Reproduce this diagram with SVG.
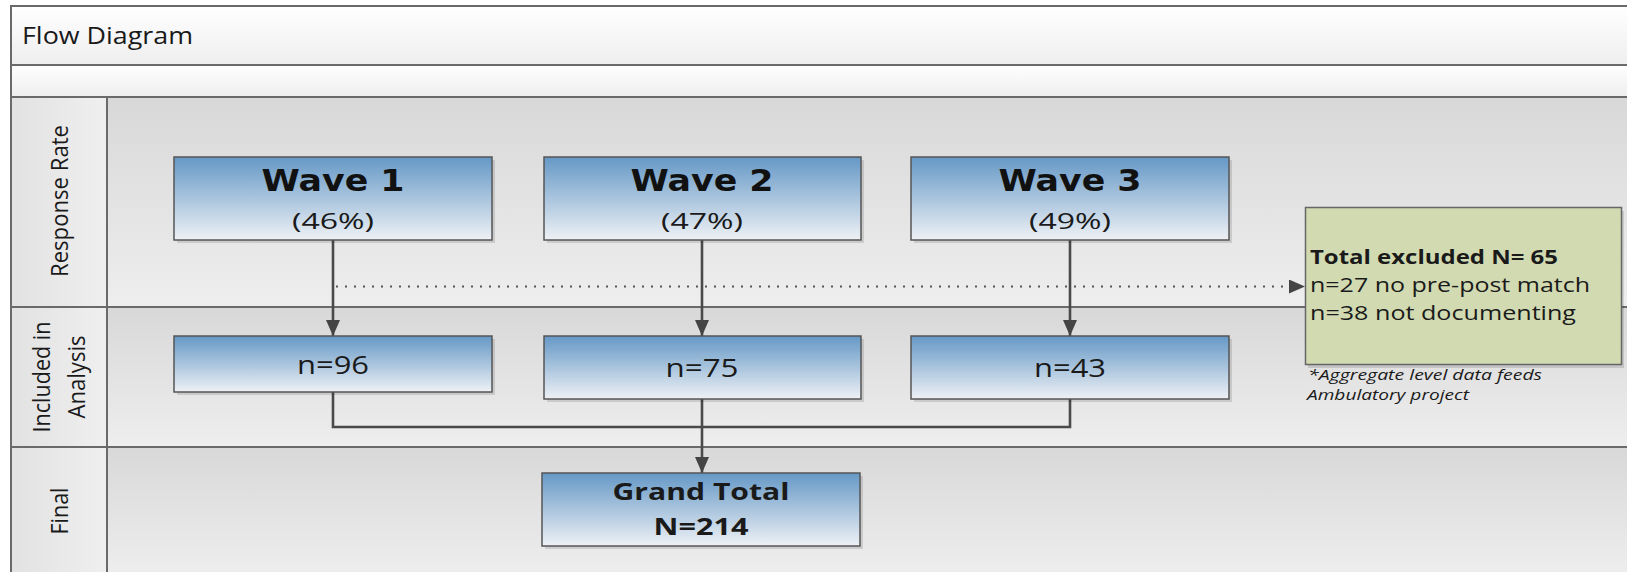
<svg xmlns="http://www.w3.org/2000/svg" width="1627" height="572" viewBox="0 0 1627 572">
<defs>
<linearGradient id="gBand" x1="0" y1="0" x2="0" y2="1"><stop offset="0" stop-color="#ffffff"/><stop offset="1" stop-color="#eeeeee"/></linearGradient>
<linearGradient id="gLane" x1="0" y1="0" x2="0" y2="1"><stop offset="0" stop-color="#d8d8d8"/><stop offset="1" stop-color="#eeeeee"/></linearGradient>
<linearGradient id="gHead" x1="0" y1="0" x2="1" y2="0"><stop offset="0" stop-color="#e2e2e2"/><stop offset="1" stop-color="#efefef"/></linearGradient>
<linearGradient id="gBox" x1="0" y1="0" x2="0" y2="1"><stop offset="0" stop-color="#6598c6"/><stop offset="1" stop-color="#eef1f5"/></linearGradient>
<marker id="arr" markerWidth="16" markerHeight="14" refX="16" refY="7" orient="auto" markerUnits="userSpaceOnUse"><path d="M0,0 L16,7 L0,14 Z" fill="#444"/></marker>
</defs>
<style>
.bd{stroke:#6a6a6a;stroke-width:2;fill:none}
.box{fill:url(#gBox);stroke:#555;stroke-width:1.5}
.sh{fill:#000;opacity:0.12}
.con{stroke:#4a4a4a;stroke-width:2.6;fill:none}
.t{font-family:"Open Sans","DejaVu Sans",sans-serif;fill:#1a1a1a}
.wb{font-family:"DejaVu Sans",sans-serif;font-weight:bold;fill:#111}
.b{font-weight:bold}
</style>
<!-- bands -->
<rect x="11" y="6" width="1630" height="59" fill="url(#gBand)"/>
<rect x="11" y="65" width="1630" height="32" fill="url(#gBand)"/>
<rect x="107" y="97" width="1530" height="210" fill="url(#gLane)"/>
<rect x="107" y="307" width="1530" height="140" fill="url(#gLane)"/>
<rect x="107" y="447" width="1530" height="130" fill="url(#gLane)"/>
<rect x="11" y="97" width="96" height="480" fill="url(#gHead)"/>
<path class="bd" d="M1640,6 H11 V580 M11,65 H1640 M11,97 H1640 M107,97 V580 M11,307 H1640 M11,447 H1640"/>
<text class="t" x="22" y="44" font-size="23" textLength="171" lengthAdjust="spacingAndGlyphs">Flow Diagram</text>
<g id="lane-labels">
<text class="t" font-size="23" text-anchor="middle" transform="translate(68,201) rotate(-90)" textLength="152" lengthAdjust="spacingAndGlyphs">Response Rate</text>
<text class="t" font-size="23" text-anchor="middle" transform="translate(50,377) rotate(-90)" textLength="111" lengthAdjust="spacingAndGlyphs">Included in</text>
<text class="t" font-size="23" text-anchor="middle" transform="translate(85,377) rotate(-90)" textLength="83" lengthAdjust="spacingAndGlyphs">Analysis</text>
<text class="t" font-size="23" text-anchor="middle" transform="translate(68,511) rotate(-90)" textLength="47" lengthAdjust="spacingAndGlyphs">Final</text>
</g>
<g id="connectors">
<line class="con" x1="333" y1="240" x2="333" y2="336" marker-end="url(#arr)"/>
<line class="con" x1="702" y1="240" x2="702" y2="336" marker-end="url(#arr)"/>
<line class="con" x1="1070" y1="240" x2="1070" y2="336" marker-end="url(#arr)"/>
<line x1="336" y1="286.5" x2="1305" y2="286.5" stroke="#555" stroke-width="1.8" stroke-dasharray="2 7" marker-end="url(#arr)"/>
<path class="con" d="M333,392 V427 H1070 V399"/>
<line class="con" x1="702" y1="399" x2="702" y2="473" marker-end="url(#arr)"/>
</g>
<g id="wave1">
<rect class="sh" x="177" y="160" width="318" height="83"/>
<rect class="box" x="174" y="157" width="318" height="83"/>
<text class="wb" x="333" y="191" font-size="31" text-anchor="middle" textLength="143" lengthAdjust="spacingAndGlyphs">Wave 1</text>
<text class="t" x="333" y="229" font-size="22" text-anchor="middle" textLength="82" lengthAdjust="spacingAndGlyphs">(46%)</text>
</g>
<g id="wave2">
<rect class="sh" x="547" y="160" width="317" height="83"/>
<rect class="box" x="544" y="157" width="317" height="83"/>
<text class="wb" x="702" y="191" font-size="31" text-anchor="middle" textLength="143" lengthAdjust="spacingAndGlyphs">Wave 2</text>
<text class="t" x="702" y="229" font-size="22" text-anchor="middle" textLength="82" lengthAdjust="spacingAndGlyphs">(47%)</text>
</g>
<g id="wave3">
<rect class="sh" x="914" y="160" width="318" height="83"/>
<rect class="box" x="911" y="157" width="318" height="83"/>
<text class="wb" x="1070" y="191" font-size="31" text-anchor="middle" textLength="143" lengthAdjust="spacingAndGlyphs">Wave 3</text>
<text class="t" x="1070" y="229" font-size="22" text-anchor="middle" textLength="82" lengthAdjust="spacingAndGlyphs">(49%)</text>
</g>
<g id="n96">
<rect class="sh" x="177" y="339" width="318" height="56"/>
<rect class="box" x="174" y="336" width="318" height="56"/>
<text class="t" x="333" y="374" font-size="25" text-anchor="middle" textLength="72" lengthAdjust="spacingAndGlyphs">n=96</text>
</g>
<g id="n75">
<rect class="sh" x="547" y="339" width="317" height="63"/>
<rect class="box" x="544" y="336" width="317" height="63"/>
<text class="t" x="702" y="377" font-size="25" text-anchor="middle" textLength="73" lengthAdjust="spacingAndGlyphs">n=75</text>
</g>
<g id="n43">
<rect class="sh" x="914" y="339" width="318" height="63"/>
<rect class="box" x="911" y="336" width="318" height="63"/>
<text class="t" x="1070" y="377" font-size="25" text-anchor="middle" textLength="72" lengthAdjust="spacingAndGlyphs">n=43</text>
</g>
<g id="grandtotal">
<rect class="sh" x="545" y="476" width="318" height="73"/>
<rect class="box" x="542" y="473" width="318" height="73"/>
<text class="t b" x="701" y="500" font-size="24" text-anchor="middle" textLength="177" lengthAdjust="spacingAndGlyphs">Grand Total</text>
<text class="t b" x="701" y="535" font-size="24" text-anchor="middle" textLength="95" lengthAdjust="spacingAndGlyphs">N=214</text>
</g>
<g id="excluded">
<rect class="sh" x="1308" y="211" width="316" height="157"/>
<rect x="1305.5" y="207.5" width="316" height="157" fill="#d2dab2" stroke="#666" stroke-width="1.5"/>
<text class="t b" x="1310" y="264" font-size="20" textLength="248" lengthAdjust="spacingAndGlyphs">Total excluded N= 65</text>
<text class="t" x="1310" y="292" font-size="20" textLength="280" lengthAdjust="spacingAndGlyphs">n=27 no pre-post match</text>
<text class="t" x="1310" y="320" font-size="20" textLength="266" lengthAdjust="spacingAndGlyphs">n=38 not documenting</text>
</g>
<g id="footnote">
<text class="t" x="1308" y="380" font-size="15" font-style="italic" textLength="234" lengthAdjust="spacingAndGlyphs">*Aggregate level data feeds</text>
<text class="t" x="1307" y="400" font-size="15" font-style="italic" textLength="162" lengthAdjust="spacingAndGlyphs">Ambulatory project</text>
</g>
</svg>
